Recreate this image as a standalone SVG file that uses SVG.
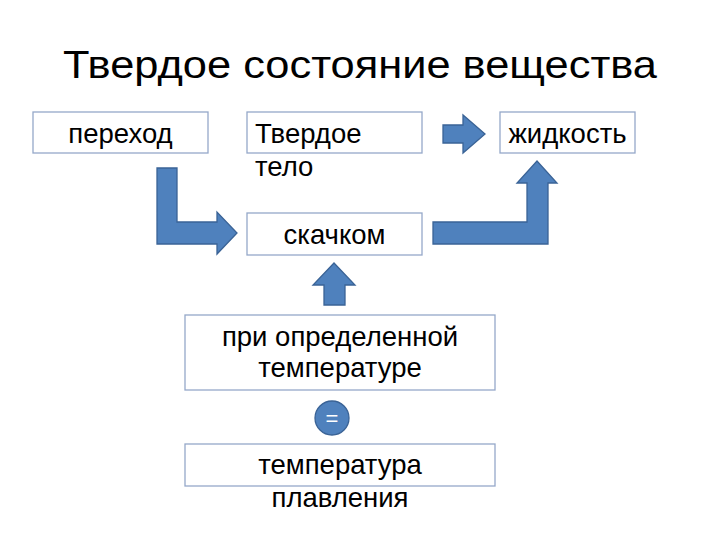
<svg xmlns="http://www.w3.org/2000/svg" width="720" height="540" viewBox="0 0 720 540">
<style>
.box{fill:#fff;stroke:#95A8C9;stroke-width:1.3}
.t{font-family:"Liberation Sans",Arial,sans-serif;font-size:27.5px;fill:#000}
.title{font-family:"Liberation Sans",Arial,sans-serif;font-size:39px;fill:#000}
.arr{fill:#4F81BD;stroke:#3A6396;stroke-width:1.3;stroke-linejoin:miter}
</style>
<rect width="720" height="540" fill="#fff"/>
<text class="title" x="360" y="78" text-anchor="middle" textLength="594" lengthAdjust="spacingAndGlyphs">Твердое состояние вещества</text>
<g id="perehod"><rect class="box" x="33" y="112" width="175" height="41"/><text class="t" x="120.5" y="143" text-anchor="middle">переход</text></g>
<g id="tverdoe"><rect class="box" x="247" y="112" width="175" height="41"/><text class="t" x="255" y="143">Твердое</text><text class="t" x="255" y="176">тело</text></g>
<g id="zhidkost"><rect class="box" x="500" y="112" width="135" height="41"/><text class="t" x="567.5" y="143" text-anchor="middle">жидкость</text></g>
<g id="skachkom"><rect class="box" x="247" y="213" width="175" height="42"/><text class="t" x="334.5" y="244" text-anchor="middle">скачком</text></g>
<g id="pri"><rect class="box" x="185" y="315" width="310" height="75"/><text class="t" x="340" y="346" text-anchor="middle">при определенной</text><text class="t" x="340" y="377" text-anchor="middle">температуре</text></g>
<g id="eq"><circle cx="332" cy="418" r="17" fill="#4F81BD" stroke="#3A6396" stroke-width="1.3"/><text x="332" y="426" text-anchor="middle" font-family="'Liberation Sans',Arial,sans-serif" font-size="22" fill="#fff">=</text></g>
<g id="temp"><rect class="box" x="185" y="444" width="310" height="42"/><text class="t" x="340" y="474" text-anchor="middle">температура</text><text class="t" x="340" y="507" text-anchor="middle">плавления</text></g>
<g id="connectors">
<path class="arr" d="M443,125 H463 V115 L485,134 L463,153 V143 H443 Z"/>
<path class="arr" d="M157,168 H177 V222 H217 V212 L237,233 L217,254 V244 H157 Z"/>
<path class="arr" d="M433,222 H527 V183 H517 L537,161 L557,183 H548 V244 H433 Z"/>
<path class="arr" d="M324,305 V285 H313 L334,263 L355,285 H345 V305 Z"/>
</g>
</svg>
